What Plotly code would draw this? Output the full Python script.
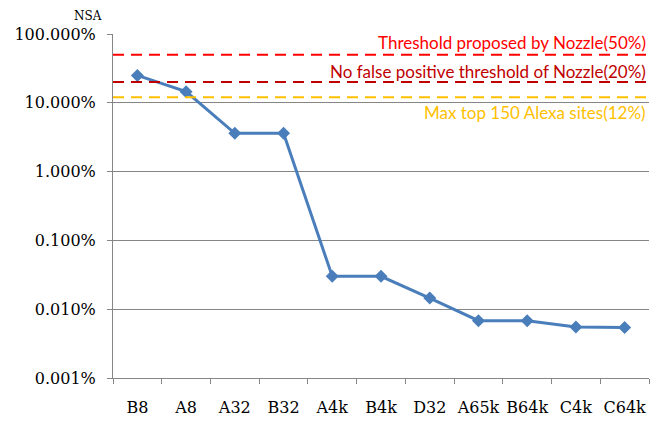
import math
import plotly.graph_objects as go

categories = ["B8", "A8", "A32", "B32", "A4k", "B4k", "D32", "A65k", "B64k", "C4k", "C64k"]
nsa_values = [0.25, 0.145, 0.036, 0.036, 0.0003, 0.0003, 0.000145, 0.000068, 0.000068, 0.000055, 0.000054]

threshold_names = ["Threshold proposed by Nozzle(50%)",
                   "No false positive threshold of Nozzle(20%)",
                   "Max top 150 Alexa sites(12%)"]
threshold_values = [0.5, 0.2, 0.12]
threshold_colors = ["#ff0000", "#c00000", "#ffc000"]
label_shift = [12, 11, -15]

y_tick_vals = [1, 0.1, 0.01, 0.001, 0.0001, 0.00001]
y_tick_text = ["100.000%", "10.000%", "1.000%", "0.100%", "0.010%", "0.001%"]

fig = go.Figure()
fig.add_trace(go.Scatter(
    x=categories, y=nsa_values, mode="lines+markers",
    line=dict(color="#4a7ebb", width=3),
    marker=dict(symbol="diamond", size=10, color="#4a7ebb"),
    showlegend=False, cliponaxis=False,
))

for name, val, col, sh in zip(threshold_names, threshold_values, threshold_colors, label_shift):
    fig.add_shape(type="line", xref="paper", x0=0, x1=1, yref="y", y0=val, y1=val,
                  line=dict(color=col, width=2, dash="11px,7px"))
    fig.add_annotation(xref="paper", x=1, yref="y", y=math.log10(val), text=name, showarrow=False,
                       xanchor="right", yanchor="middle", yshift=sh, xshift=-1,
                       font=dict(family="Lato", size=17, color=col))

fig.add_annotation(xref="paper", yref="paper", x=-0.017, y=1.0, yshift=18, text="NSA",
                   showarrow=False, xanchor="right", yanchor="middle",
                   font=dict(family="DejaVu Serif", size=12, color="#000"))

fig.update_layout(
    width=666, height=424,
    margin=dict(l=105, r=25, t=26, b=54),
    paper_bgcolor="white", plot_bgcolor="white",
    xaxis=dict(
        type="category", tickson="boundaries", ticks="outside", ticklen=5,
        tickcolor="#868686", showline=True, linecolor="#868686", linewidth=1,
        showgrid=False, ticklabelstandoff=15, tickangle=0, automargin=False,
        tickfont=dict(family="DejaVu Serif", size=16, color="#000"),
        range=[-0.5, 10.5],
    ),
    yaxis=dict(
        type="log", range=[-5, 0], tickvals=y_tick_vals, ticktext=y_tick_text,
        ticks="outside", ticklen=5, tickcolor="#868686", automargin=False,
        showline=True, linecolor="#868686", linewidth=1,
        showgrid=True, gridcolor="#868686", gridwidth=1, zeroline=False,
        ticklabelstandoff=8,
        tickfont=dict(family="DejaVu Serif", size=16, color="#000"),
    ),
)

fig.write_html("out.html")
